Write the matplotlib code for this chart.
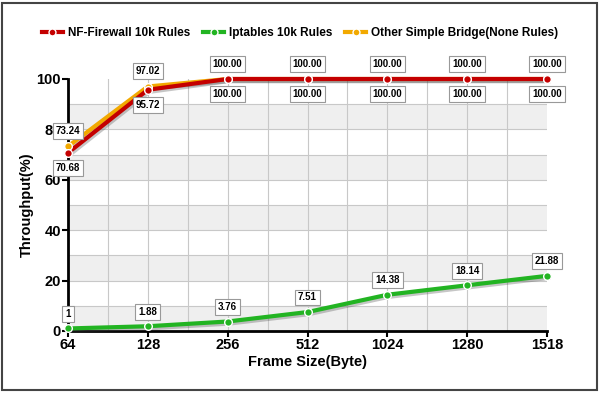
import numpy as np
import matplotlib.pyplot as plt
import matplotlib.patheffects as pe
from matplotlib.patches import Rectangle

plt.rcParams["font.family"] = ["Liberation Sans", "DejaVu Sans"]

# data
frame_sizes = ["64", "128", "256", "512", "1024", "1280", "1518"]
nf_firewall = [70.68, 95.72, 100.00, 100.00, 100.00, 100.00, 100.00]
iptables = [1, 1.88, 3.76, 7.51, 14.38, 18.14, 21.88]
simple_bridge = [73.24, 97.02, 100.00, 100.00, 100.00, 100.00, 100.00]

nf_labels = ["70.68", "95.72", "100.00", "100.00", "100.00", "100.00", "100.00"]
ipt_labels = ["1", "1.88", "3.76", "7.51", "14.38", "18.14", "21.88"]
br_labels = ["73.24", "97.02", "100.00", "100.00", "100.00", "100.00", "100.00"]

RED = "#c40000"
GREEN = "#22b422"
ORANGE = "#f2a900"

fig = plt.figure(figsize=(6, 3.93), dpi=100)
ax = fig.add_axes([0.1133, 0.1578, 0.7984, 0.6412])
x = np.arange(len(frame_sizes))

# alternating bands and grid
for lo in range(0, 100, 20):
    ax.axhspan(lo, lo + 10, color="#efefef", zorder=0, lw=0)
for yv in range(10, 100, 10):
    ax.axhline(yv, color="#c8c8c8", lw=0.8, zorder=1)
for xv in np.arange(0.5, 6, 0.5):
    ax.axvline(xv, color="#c8c8c8", lw=0.8, zorder=1)

shadow = [pe.SimpleLineShadow(offset=(1, -1.5), shadow_color="#444444", alpha=0.3), pe.Normal()]
ax.plot(x, simple_bridge, color=ORANGE, lw=3, zorder=3, path_effects=shadow, clip_on=False)
ax.plot(x, nf_firewall, color=RED, lw=3, zorder=4, path_effects=shadow, clip_on=False)
ax.plot(x, iptables, color=GREEN, lw=3, zorder=4, path_effects=shadow, clip_on=False)

mk = dict(marker="o", ms=5.5, mec="white", mew=1.0, ls="none", clip_on=False)
ax.plot(x, simple_bridge, mfc=ORANGE, zorder=5, **mk)
ax.plot(x, nf_firewall, mfc=RED, zorder=6, **mk)
ax.plot(x, iptables, mfc=GREEN, zorder=6, **mk)

box = dict(boxstyle="square,pad=0.3", fc="white", ec="#999999", lw=0.8)
txt = dict(fontsize=7, fontweight="bold", ha="center", va="center", bbox=box, zorder=8,
           textcoords="offset points", annotation_clip=False)
for xi, yv, lab in zip(x, simple_bridge, br_labels):
    ax.annotate(lab, (xi, yv), xytext=(0, 11), **txt)
for xi, yv, lab in zip(x, nf_firewall, nf_labels):
    ax.annotate(lab, (xi, yv), xytext=(0, -11), **txt)
for xi, yv, lab in zip(x, iptables, ipt_labels):
    ax.annotate(lab, (xi, yv), xytext=(0, 10.5), **txt)

ax.set_xlim(0, 6)
ax.set_ylim(0, 100)
ax.set_xticks(x)
ax.set_xticklabels(frame_sizes)
ax.set_yticks(range(0, 101, 20))
for s in ["top", "right"]:
    ax.spines[s].set_visible(False)
for s in ["left", "bottom"]:
    ax.spines[s].set_linewidth(2)
ax.tick_params(direction="out", length=4, width=1.5, labelsize=10.5, pad=1)
for lab in ax.get_xticklabels() + ax.get_yticklabels():
    lab.set_fontweight("bold")
ax.set_xlabel("Frame Size(Byte)", fontsize=10.5, fontweight="bold", labelpad=2)
ax.set_ylabel("Throughput(%)", fontsize=10.5, fontweight="bold", labelpad=2)

# legend
handles = [
    plt.Line2D([], [], color=RED, lw=3, marker="o", mfc=RED, mec="white", ms=5),
    plt.Line2D([], [], color=GREEN, lw=3, marker="o", mfc=GREEN, mec="white", ms=5),
    plt.Line2D([], [], color=ORANGE, lw=3, marker="o", mfc=ORANGE, mec="white", ms=5),
]
fig.legend(handles, ["NF-Firewall 10k Rules", "Iptables 10k Rules", "Other Simple Bridge(None Rules)"],
           loc="center", bbox_to_anchor=(0.5, 0.915), ncol=3, frameon=False,
           prop=dict(size=8.5, weight="bold"), handlelength=1.8, columnspacing=1.1, handletextpad=0.4)

fig.patches.append(Rectangle((0.004, 0.008), 0.991, 0.984, transform=fig.transFigure,
                             fill=False, ec="#444444", lw=1.5))

fig.savefig("out.png", dpi=100)
